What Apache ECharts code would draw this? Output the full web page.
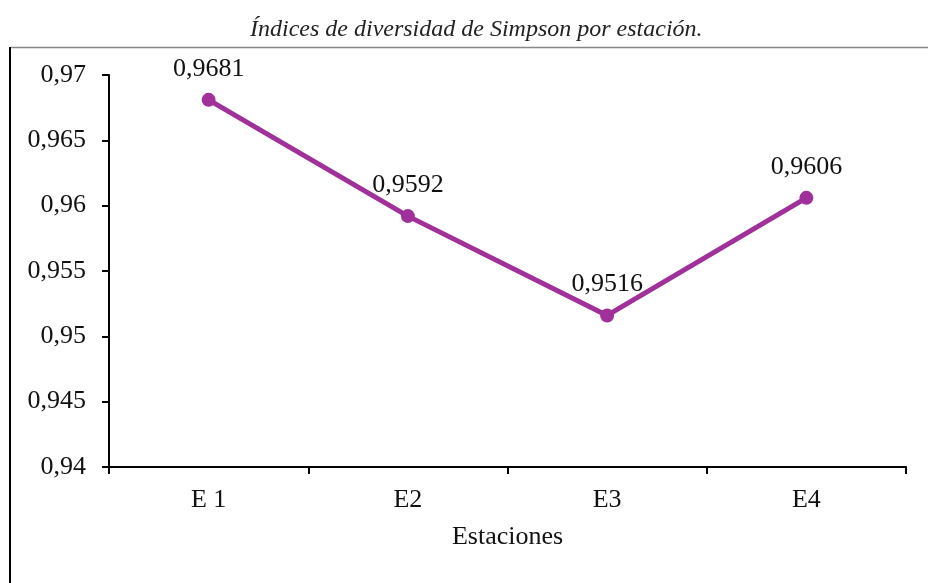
<!DOCTYPE html>
<html>
<head>
<meta charset="utf-8">
<script src="https://cdn.jsdelivr.net/npm/echarts@6/dist/echarts.min.js"></script>
<style>
  html, body { margin: 0; padding: 0; background: #fff; }
  #chart { width: 928px; height: 583px; }
</style>
</head>
<body>
<div id="chart"></div>
<script>
// estaciones y valores del índice de Simpson
var estaciones = ["E 1", "E2", "E3", "E4"];
var simpson = [0.9681, 0.9592, 0.9516, 0.9606];
var yMin = 0.94, yMax = 0.97, yStep = 0.005;

function coma(v, dec) {
  return Number(v.toFixed(dec)).toString().replace(".", ",");
}

var myChart = echarts.init(document.getElementById("chart"));
var serif = "'Liberation Serif', 'Times New Roman', serif";

var option = {
  animation: false,
  backgroundColor: "#fff",
  title: {
    text: "Índices de diversidad de Simpson por estación.",
    left: 245,
    top: 13,
    textStyle: {
      fontFamily: serif,
      fontStyle: "italic",
      fontWeight: "normal",
      fontSize: 24,
      color: "#222"
    }
  },
  graphic: [
    { type: "line", shape: { x1: 10, y1: 47.5, x2: 928, y2: 47.5 }, style: { stroke: "#888", lineWidth: 1.5 } },
    { type: "line", shape: { x1: 10, y1: 47, x2: 10, y2: 583 }, style: { stroke: "#000", lineWidth: 2 } }
  ],
  grid: { left: 109, right: 22, top: 75, bottom: 116 },
  xAxis: {
    type: "category",
    data: estaciones,
    name: "Estaciones",
    nameLocation: "middle",
    nameGap: 57,
    nameTextStyle: { fontFamily: serif, fontSize: 26, color: "#111" },
    axisLine: { lineStyle: { color: "#000", width: 2 } },
    axisTick: { show: true, length: 7, lineStyle: { color: "#000", width: 2 } },
    axisLabel: { fontFamily: serif, fontSize: 26, color: "#111", margin: 20 },
    splitLine: { show: false }
  },
  yAxis: {
    type: "value",
    min: yMin,
    max: yMax,
    interval: yStep,
    axisLine: { show: true, lineStyle: { color: "#000", width: 2 } },
    axisTick: { show: true, length: 7, lineStyle: { color: "#000", width: 2 } },
    axisLabel: {
      fontFamily: serif, fontSize: 26, color: "#111", margin: 23,
      formatter: function (v) { return coma(v, 3); }
    },
    splitLine: { show: false }
  },
  series: [{
    type: "line",
    data: simpson,
    symbol: "circle",
    symbolSize: 14,
    lineStyle: { color: "#A0309A", width: 5 },
    itemStyle: { color: "#A0309A" },
    label: {
      show: true,
      position: "top",
      distance: 11,
      fontFamily: serif,
      fontSize: 26,
      color: "#111",
      formatter: function (p) { return coma(p.value, 4); }
    }
  }]
};

myChart.setOption(option, true);
</script>
</body>
</html>
